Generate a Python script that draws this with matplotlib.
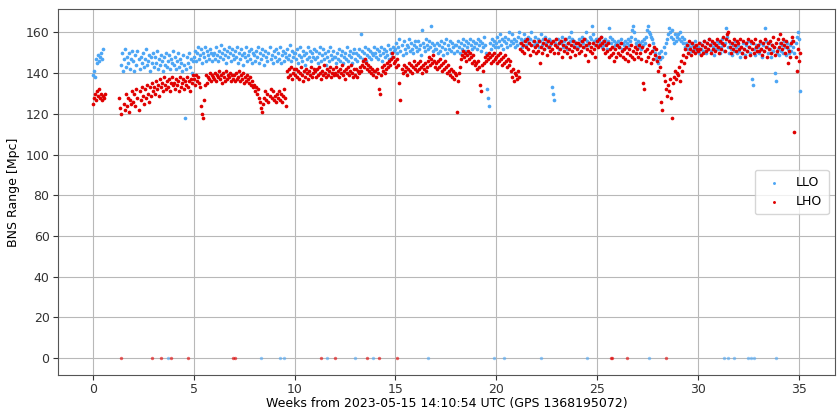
import numpy as np
import matplotlib
matplotlib.use("Agg")
import matplotlib.pyplot as plt

N = np.nan
STEP = 0.05  # weeks between samples (20 samples per week row)

# LLO BNS range [Mpc], one row per week, samples every 0.05 week
llo_rows = [
    [139,141,138,147,145,149,146,148,150,147,152,N,N,N,N,N,N,N,N,N],
    [N,N,N,N,N,N,N,N,144,150,141,147,152,143,148,145,150,142,147,151],
    [146,141,149,144,151,147,142,148,145,150,143,147,152,144,146,149,141,148,145,150],
    [143,148,145,151,142,147,144,149,146,141,148,144,150,143,146,149,142,147,145,151],
    [144,148,142,146,150,143,147,145,141,149,144,118,142,148,145,150,143,147,140,146],
    [148,151,146,150,153,147,149,152,145,150,148,153,146,151,149,147,152,150,146,149],
    [150,147,153,149,146,151,148,154,150,147,152,149,145,151,148,153,150,146,152,149],
    [147,151,148,153,145,150,147,152,149,144,150,148,153,146,149,151,147,152,145,150],
    [149,146,151,148,153,145,150,147,152,149,144,151,148,146,150,153,147,149,145,151],
    [148,152,146,150,147,153,145,149,151,146,150,148,152,147,149,154,146,151,148,150],
    [150,147,152,145,149,153,148,146,151,149,144,150,147,153,148,151,146,150,148,152],
    [147,151,148,145,150,153,146,149,152,147,150,144,148,151,146,153,149,147,151,148],
    [148,145,150,147,152,146,149,151,145,148,150,147,153,146,149,151,148,145,150,152],
    [147,150,146,149,152,148,159,151,147,150,153,146,149,152,148,151,147,150,149,153],
    [150,148,152,147,151,149,153,146,150,152,148,151,149,154,147,152,150,148,153,151],
    [152,155,150,153,157,151,154,149,156,152,150,154,153,157,151,155,152,150,154,156],
    [153,151,156,152,154,149,161,155,153,151,157,154,152,156,153,163,155,151,154,152],
    [152,155,150,154,151,156,153,149,155,152,157,150,154,152,156,151,155,153,150,154],
    [154,151,156,153,150,155,152,157,154,151,156,153,155,150,157,154,152,156,153,155],
    [155,152,157,154,156,151,155,153,158,154,150,132,128,124,155,152,157,154,156,153],
    [155,158,153,156,159,154,157,152,156,158,155,153,157,160,154,156,159,155,157,153],
    [156,154,158,160,155,157,153,156,159,157,154,156,158,155,157,160,156,154,158,155],
    [155,157,153,156,159,154,157,152,158,155,156,153,157,154,156,133,130,127,155,157],
    [154,157,152,156,155,158,153,156,154,157,152,155,158,156,160,157,154,156,153,155],
    [155,153,157,154,156,158,155,153,157,160,156,154,155,158,157,163,159,156,154,157],
    [157,154,156,155,158,153,156,154,157,155,152,156,162,158,155,157,153,156,154,155],
    [154,156,153,155,157,152,155,154,156,153,155,157,154,156,158,161,163,160,157,155],
    [154,156,153,155,152,156,154,157,155,158,161,163,160,159,158,157,155,152,150,147],
    [148,145,150,147,151,148,153,150,155,157,159,162,160,158,161,157,155,159,156,158],
    [159,157,160,156,158,155,157,153,155,152,154,150,153,155,151,154,152,156,153,151],
    [153,150,155,152,154,151,156,153,150,155,152,157,154,151,155,153,149,154,152,156],
    [152,155,150,153,157,154,151,155,162,158,153,150,155,152,149,154,151,156,153,150],
    [154,151,148,153,150,155,152,149,154,151,156,153,150,155,137,134,152,149,154,151],
    [153,150,155,152,148,154,151,162,156,153,150,155,152,148,154,151,153,140,136,150],
    [152,149,155,151,154,150,156,153,149,155,152,150,154,151,156,153,150,155,158,160],
    [157,131],
]

# LHO BNS range [Mpc]
lho_rows = [
    [125,128,130,127,131,129,132,128,130,127,129,128,130,N,N,N,N,N,N,N],
    [N,N,N,N,N,N,128,123,120,N,N,125,122,130,124,128,121,127,125,131],
    [126,130,124,132,128,122,131,127,133,129,125,132,128,134,130,126,133,129,135,131],
    [133,130,136,132,134,129,137,133,135,131,138,134,132,136,133,137,131,135,138,134],
    [135,132,137,134,136,131,138,133,135,137,132,136,134,138,133,136,131,137,135,139],
    [137,134,139,136,138,135,133,124,120,118,127,134,139,135,138,137,140,136,139,138],
    [137,140,136,139,138,141,137,139,135,140,138,136,141,137,139,138,140,136,139,137],
    [139,136,140,137,138,141,136,139,137,140,135,138,136,139,137,135,138,134,136,133],
    [134,131,133,130,132,128,126,123,121,125,128,131,127,130,126,129,132,128,131,127],
    [129,126,130,128,131,127,130,126,129,132,128,124,141,138,142,139,143,137,140,142],
    [139,142,138,141,137,140,143,139,136,141,138,142,140,137,141,139,143,138,140,142],
    [141,138,142,139,143,140,137,141,139,144,140,138,142,139,141,143,138,140,142,139],
    [140,143,139,141,138,142,140,144,139,141,137,142,140,143,139,141,144,140,138,142],
    [139,142,138,141,140,143,141,144,146,143,147,145,142,144,141,143,140,142,139,141],
    [141,138,142,140,132,130,139,143,141,144,140,142,145,143,146,144,147,150,148,145],
    [146,143,147,144,135,127,142,140,144,141,143,139,142,145,141,144,140,143,146,142],
    [144,141,145,142,146,143,140,144,142,145,141,143,146,148,144,147,145,149,146,143],
    [145,142,146,143,147,144,141,145,142,146,143,140,144,141,139,142,138,141,137,140],
    [139,121,136,140,143,147,149,151,148,150,146,149,151,147,150,148,145,149,146,144],
    [145,142,146,143,134,131,144,141,145,148,146,149,147,150,148,145,149,146,150,147],
    [148,145,149,146,150,147,144,148,145,149,146,143,147,144,146,141,138,142,136,140],
    [139,137,141,138,152,155,151,154,150,156,153,157,152,155,149,154,151,156,153,150],
    [154,151,156,145,153,150,155,152,157,154,149,156,153,151,155,152,156,150,154,157],
    [153,150,155,152,156,148,154,151,157,153,150,155,152,148,154,151,156,153,149,155],
    [152,155,150,154,151,156,153,157,149,154,152,146,155,151,153,150,155,152,148,154],
    [156,153,157,154,158,155,152,156,150,154,151,155,148,152,149,153,150,146,152,148],
    [154,150,153,149,155,151,148,152,147,153,150,146,152,149,154,148,151,147,153,150],
    [152,148,154,150,147,153,135,132,151,146,152,148,154,150,145,151,147,153,149,152],
    [146,141,148,143,126,122,139,136,132,129,134,131,137,128,118,135,138,141,137,140],
    [139,143,136,146,141,149,145,152,148,154,150,156,152,149,155,151,153,150,154,152],
    [151,155,152,149,154,150,156,153,151,155,152,157,154,150,156,152,155,151,154,157],
    [153,150,156,152,155,158,154,151,157,159,160,156,153,150,155,152,157,154,151,156],
    [155,152,157,153,150,156,152,148,155,151,157,153,149,156,152,155,150,157,153,151],
    [154,151,156,152,149,155,151,157,153,148,155,152,156,150,154,158,153,149,155,151],
    [157,153,159,155,152,157,154,150,156,153,145,151,148,155,158,156,111,148,141,152],
    [146,150],
]

# times (weeks) where the range dropped to zero
llo_zero_weeks = [3.7, 8.34, 9.25, 9.47, 11.58, 12.99, 13.9, 16.6, 19.9, 20.4,
                  22.2, 24.5, 27.6, 31.3, 31.5, 31.8, 32.5, 32.65, 32.8, 33.9]
lho_zero_weeks = [1.37, 2.9, 3.35, 3.87, 4.7, 6.95, 7.05, 11.3, 11.98, 13.6,
                  14.16, 15.06, 25.7, 25.75, 26.5, 28.4]

x_ticks = [0, 5, 10, 15, 20, 25, 30, 35]
y_ticks = [0, 20, 40, 60, 80, 100, 120, 140, 160]
x_label = "Weeks from 2023-05-15 14:10:54 UTC (GPS 1368195072)"
y_label = "BNS Range [Mpc]"


def rows_to_series(rows):
    t, v = [], []
    for w, row in enumerate(rows):
        for i, val in enumerate(row):
            t.append(w + i * STEP)
            v.append(val)
    t = np.array(t, dtype=float)
    v = np.array(v, dtype=float)
    ok = ~np.isnan(v)
    return t[ok], v[ok]


llo_t, llo_v = rows_to_series(llo_rows)
lho_t, lho_v = rows_to_series(lho_rows)

LLO_C = "#4da6f5"
LHO_C = "#e00000"

fig = plt.figure(figsize=(8.39, 4.11), dpi=100)
ax = fig.add_axes([0.069, 0.088, 0.926, 0.890])

ax.scatter(llo_t, llo_v, s=7, color=LLO_C, linewidths=0, label="LLO", zorder=2)
ax.scatter(llo_zero_weeks, np.zeros(len(llo_zero_weeks)), s=6, color=LLO_C,
           alpha=0.6, linewidths=0, zorder=2)
ax.scatter(lho_t, lho_v, s=7, color=LHO_C, linewidths=0, label="LHO", zorder=3)
ax.scatter(lho_zero_weeks, np.zeros(len(lho_zero_weeks)), s=6, color=LHO_C,
           alpha=0.6, linewidths=0, zorder=3)

ax.set_xlim(-1.75, 36.8)
ax.set_ylim(-8.2, 171.5)
ax.set_xticks(x_ticks)
ax.set_yticks(y_ticks)
ax.tick_params(labelsize=9, colors="#333333", pad=2.5)
ax.grid(True, color="#b8b8b8", linewidth=0.8, zorder=0)
ax.set_axisbelow(True)
for sp in ax.spines.values():
    sp.set_color("#555555")
ax.set_xlabel(x_label, fontsize=9, labelpad=0.5)
ax.set_ylabel(y_label, fontsize=9, labelpad=4)

leg = ax.legend(loc="center right", fontsize=9, markerscale=0.8,
                handletextpad=0.8, borderpad=0.5)

fig.savefig("out.png", dpi=100)
